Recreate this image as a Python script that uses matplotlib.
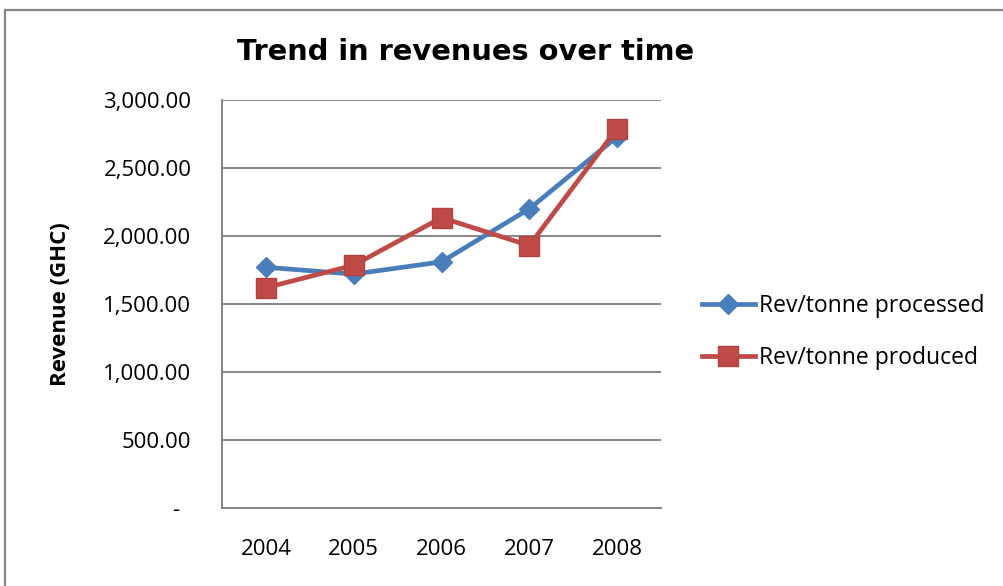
import matplotlib.pyplot as plt
from matplotlib.patches import Rectangle
from matplotlib.ticker import FuncFormatter

years = ["2004", "2005", "2006", "2007", "2008"]
rev_processed = [1770, 1720, 1810, 2200, 2730]
rev_produced = [1620, 1785, 2135, 1930, 2790]

blue = "#4A7EBB"
red = "#BE4B48"
grid_col = "#868686"

plt.rcParams["font.family"] = ["Open Sans", "DejaVu Sans"]

fig = plt.figure(figsize=(10.04, 5.86), dpi=100)
ax = fig.add_axes([0.2211, 0.1331, 0.4373, 0.6962])

x = range(len(years))
ax.plot(x, rev_processed, color=blue, lw=3.4, marker="D", ms=10,
        mec=blue, mfc=blue, label="Rev/tonne processed", zorder=3)
ax.plot(x, rev_produced, color=red, lw=3.4, marker="s", ms=14,
        mec="#B3413F", mfc=red, label="Rev/tonne produced", zorder=4)

ax.set_xlim(-0.5, len(years) - 0.5)
ax.set_ylim(0, 3000)
ax.set_yticks(range(0, 3001, 500))
ax.set_xticks(list(x))
ax.set_xticklabels(years)


def money(v, pos):
    # accounting style: zero shows as a dash
    if v == 0:
        return "-  "
    return f"{v:,.2f}"


ax.yaxis.set_major_formatter(FuncFormatter(money))
ax.grid(axis="y", color=grid_col, lw=1.4)
ax.set_axisbelow(True)
for s in ["top", "right"]:
    ax.spines[s].set_visible(False)
for s in ["left", "bottom"]:
    ax.spines[s].set_color(grid_col)
    ax.spines[s].set_linewidth(1.4)
ax.tick_params(axis="y", length=0, labelsize=16, pad=22)
ax.tick_params(axis="x", length=0, labelsize=16, pad=22)

ax.set_ylabel("Revenue (GHC)", fontsize=16, fontweight="bold")
ax.yaxis.set_label_coords(-0.345, 0.5)

fig.text(0.464, 0.911, "Trend in revenues over time", ha="center", va="center",
         fontsize=20.8, fontweight="bold", family="DejaVu Sans")

ax.legend(loc="center left", bbox_to_anchor=(1.093, 0.431), frameon=False,
          fontsize=16.5, handlelength=2.3, handletextpad=0.2,
          labelspacing=1.2, borderpad=0, borderaxespad=0)

fig.patches.append(Rectangle((5 / 1004, -0.1), 1.2, 1.1 - 10 / 586,
                             transform=fig.transFigure, fill=False,
                             ec=grid_col, lw=1.6))

fig.savefig("out.png", dpi=100)
